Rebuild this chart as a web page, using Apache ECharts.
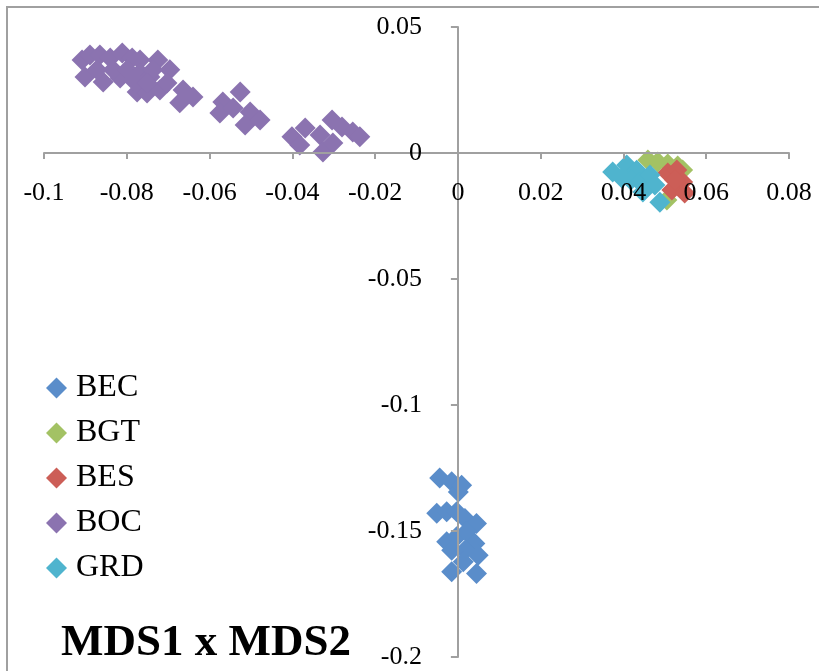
<!DOCTYPE html>
<html>
<head>
<meta charset="UTF-8">
<title>MDS1 x MDS2</title>
<script src="https://cdn.jsdelivr.net/npm/echarts@6/dist/echarts.min.js"></script>
<style>
  html, body { margin: 0; padding: 0; background: #fff; }
  #main { width: 819px; height: 671px; }
</style>
</head>
<body>
<div id="main"></div>
<script>
// series names, in legend / drawing order
var groups = ['BEC', 'BGT', 'BES', 'BOC', 'GRD']
var colors = ['#5A8DCA', '#A3C264', '#CC5E57', '#8B73B0', '#4FB4CE']

// [MDS1, MDS2]
var bec = [
  [-0.0044, -0.1290], [-0.0015, -0.1305], [0.0001, -0.1345], [0.0009, -0.1318],
  [-0.0051, -0.1430], [-0.0027, -0.1424], [-0.0003, -0.1424], [0.0017, -0.1450],
  [0.0045, -0.1470], [-0.0027, -0.1543], [-0.0003, -0.1523], [0.0021, -0.1503],
  [0.0041, -0.1550], [-0.0015, -0.1576], [0.0017, -0.1576], [0.0049, -0.1596],
  [0.0013, -0.1622], [-0.0015, -0.1662], [0.0045, -0.1669]
]
var bgt = [
  [0.0459, -0.0028], [0.0483, -0.0036], [0.0507, -0.0044], [0.0531, -0.0052],
  [0.0543, -0.0067], [0.0505, -0.0187]
]
var bes = [
  [0.0507, -0.0079], [0.0529, -0.0067], [0.0543, -0.0115], [0.0517, -0.0147],
  [0.0548, -0.0159], [0.0524, -0.0107]
]
var boc = [
  [-0.0908, 0.0369], [-0.0889, 0.0389], [-0.0865, 0.0389], [-0.0840, 0.0377],
  [-0.0811, 0.0397], [-0.0787, 0.0377], [-0.0768, 0.0369], [-0.0725, 0.0369],
  [-0.0696, 0.0330], [-0.0901, 0.0302], [-0.0857, 0.0282], [-0.0816, 0.0298],
  [-0.0775, 0.0242], [-0.0751, 0.0238], [-0.0720, 0.0250], [-0.0703, 0.0278],
  [-0.0664, 0.0250], [-0.0640, 0.0222], [-0.0672, 0.0199], [-0.0833, 0.0330],
  [-0.0799, 0.0330], [-0.0768, 0.0318], [-0.0744, 0.0302], [-0.0737, 0.0330],
  [-0.0872, 0.0330], [-0.0785, 0.0290], [-0.0751, 0.0278],
  [-0.0568, 0.0202], [-0.0526, 0.0242], [-0.0575, 0.0159], [-0.0543, 0.0179],
  [-0.0502, 0.0163], [-0.0514, 0.0111], [-0.0478, 0.0131],
  [-0.0401, 0.0064], [-0.0369, 0.0099], [-0.0382, 0.0032], [-0.0333, 0.0071],
  [-0.0326, 0.0004], [-0.0302, 0.0040], [-0.0304, 0.0131], [-0.0280, 0.0103],
  [-0.0254, 0.0083], [-0.0237, 0.0064]
]
var grd = [
  [0.0374, -0.0075], [0.0408, -0.0048], [0.0432, -0.0068], [0.0418, -0.0107],
  [0.0440, -0.0115], [0.0464, -0.0087], [0.0476, -0.0127], [0.0447, -0.0155],
  [0.0488, -0.0195], [0.0396, -0.0099]
]
var seriesData = [bec, bgt, bes, boc, grd]

var serif = '"Liberation Serif", "DejaVu Serif", serif'
var axisGrey = '#a0a0a0'

// plot box in pixels; the axes cross at (0, 0) inside it
var gridLeft = 44, gridRight = 30, gridTop = 27, gridBottom = 14
var plotW = 819 - gridLeft - gridRight
var plotH = 671 - gridTop - gridBottom
var xMin = -0.1, xMax = 0.08, yMin = -0.2, yMax = 0.05
// shift the axes from the grid edges onto the zero lines
var yAxisShift = -plotW * (0 - xMin) / (xMax - xMin)
var xAxisShift = -plotH * (0 - yMin) / (yMax - yMin)

var chart = echarts.init(document.getElementById('main'))

var series = groups.map(function (name, i) {
  return {
    name: name,
    type: 'scatter',
    symbol: 'diamond',
    symbolSize: 21,
    data: seriesData[i],
    itemStyle: { color: colors[i], opacity: 1 },
    emphasis: { disabled: true }
  }
})

chart.setOption({
  animation: false,
  color: colors,
  title: {
    text: 'MDS1 x MDS2',
    left: 61,
    top: 621,
    padding: 0,
    textStyle: {
      fontFamily: serif,
      fontWeight: 'bold',
      fontSize: 45,
      color: '#000'
    }
  },
  legend: {
    orient: 'vertical',
    left: 46,
    top: 372,
    padding: 0,
    itemWidth: 21,
    itemHeight: 21,
    itemGap: 13,
    icon: 'diamond',
    data: groups,
    textStyle: {
      fontFamily: serif,
      fontSize: 32,
      lineHeight: 32,
      color: '#000',
      padding: [0, 0, 0, 4]
    }
  },
  graphic: [{
    type: 'rect',
    shape: { x: 7, y: 7, width: 1000, height: 1000 },
    style: { fill: 'none', stroke: axisGrey, lineWidth: 2 },
    silent: true,
    z: -10
  }],
  grid: {
    left: gridLeft, right: gridRight, top: gridTop, bottom: gridBottom,
    containLabel: false,
    outerBoundsMode: 'none'
  },
  xAxis: {
    type: 'value',
    min: xMin,
    max: xMax,
    interval: 0.02,
    position: 'bottom',
    offset: xAxisShift,
    z: 5,
    axisLine: { show: true, onZero: false, lineStyle: { color: axisGrey, width: 2 } },
    axisTick: { show: true, length: 6, lineStyle: { color: axisGrey, width: 2 } },
    splitLine: { show: false },
    axisLabel: {
      margin: 27,
      fontFamily: serif,
      fontSize: 26,
      color: '#000',
      showMinLabel: true,
      showMaxLabel: true,
      hideOverlap: false
    }
  },
  yAxis: {
    type: 'value',
    min: yMin,
    max: yMax,
    interval: 0.05,
    position: 'left',
    offset: yAxisShift,
    z: 5,
    axisLine: { show: true, onZero: false, lineStyle: { color: axisGrey, width: 2 } },
    axisTick: { show: true, length: 7, lineStyle: { color: axisGrey, width: 2 } },
    splitLine: { show: false },
    axisLabel: {
      margin: 36,
      fontFamily: serif,
      fontSize: 26,
      color: '#000',
      showMinLabel: true,
      showMaxLabel: true,
      hideOverlap: false
    }
  },
  series: series
})
</script>
</body>
</html>
